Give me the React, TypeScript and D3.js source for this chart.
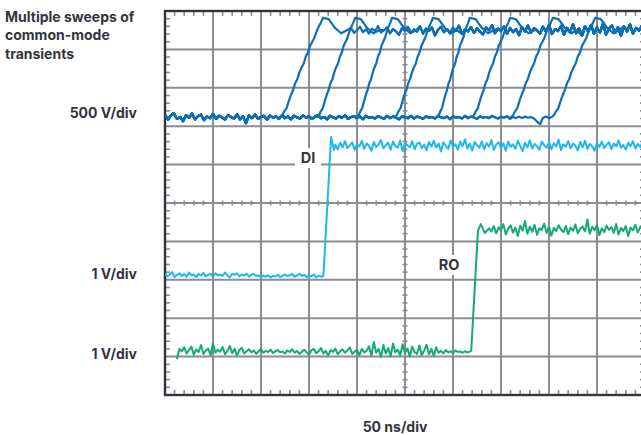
// App.tsx
import React, { useEffect, useRef } from 'react';
import * as d3 from 'd3';

// scope screen: 10 x 10 divisions, time in div, volts in div (0 = centre line)
const cmLowLevel = 2.24;
const cmPeak = 4.82;
const cmStarts = [2.40, 3.17, 4.0, 4.79, 5.67, 6.40, 7.21, 8.06];
const cmEnds = [3.29, 3.96, 4.73, 5.58, 6.35, 7.19, 8.08, 8.96];
// rising edge profile: [fraction of edge time, fraction of swing]
const cmEdgeShape = [
  [0, 0], [0.05, 0.02], [0.1, 0.06], [0.15, 0.09], [0.2, 0.16], [0.25, 0.22], [0.3, 0.27],
  [0.35, 0.34], [0.4, 0.38], [0.45, 0.45], [0.5, 0.5], [0.55, 0.54], [0.6, 0.61], [0.65, 0.65],
  [0.7, 0.72], [0.75, 0.76], [0.8, 0.8], [0.85, 0.86], [0.9, 0.91], [0.95, 0.95], [1, 1],
];
// ringing after each edge: [div after edge end, level]
const cmRing = [[0.12, 4.79], [0.25, 4.56], [0.38, 4.42], [0.5, 4.5]];
const cmStep = 0.0625;
const cmLow = [
  2.31, 2.17, 2.28, 2.34, 2.19, 2.24, 2.13, 2.29, 2.22, 2.33,
  2.18, 2.26, 2.30, 2.16, 2.25, 2.21, 2.32, 2.19, 2.27, 2.23,
  2.17, 2.29, 2.24, 2.20, 2.31, 2.18, 2.26, 2.08, 2.28, 2.21,
  2.30, 2.19, 2.25, 2.27, 2.17, 2.28, 2.22, 2.26, 2.19, 2.29,
  2.21, 2.25, 2.18, 2.27, 2.23, 2.20, 2.28, 2.22, 2.26, 2.19,
  2.25, 2.29, 2.21, 2.24, 2.18, 2.27, 2.23, 2.20, 2.26, 2.22,
  2.28, 2.19, 2.24, 2.26, 2.21, 2.25, 2.18, 2.27, 2.22, 2.24,
  2.20, 2.26, 2.23, 2.19, 2.27, 2.21, 2.25, 2.22, 2.18, 2.26,
  2.24, 2.21, 2.27, 2.20, 2.25, 2.23, 2.19, 2.26, 2.22, 2.24,
  2.20, 2.27, 2.23, 2.21, 2.25, 2.18, 2.26, 2.22, 2.24, 2.20,
  2.27, 2.21, 2.25, 2.23, 2.19, 2.26, 2.22, 2.24, 2.21, 2.27,
  2.23, 2.20, 2.25, 2.22, 2.26, 2.19, 2.24, 2.21, 2.25, 2.21,
  2.25, 2.22, 2.24, 2.20, 2.12, 2.05, 2.22, 2.25, 2.21, 2.24, 2.23,
];
const cmHighT0 = 3.25;
const cmHigh = [
  4.47, 4.55, 4.42, 4.51, 4.58, 4.44, 4.49, 4.40, 4.53, 4.46,
  4.56, 4.43, 4.50, 4.59, 4.45, 4.52, 4.41, 4.54, 4.48, 4.61,
  4.44, 4.50, 4.57, 4.42, 4.53, 4.47, 4.38, 4.55, 4.49, 4.58,
  4.43, 4.52, 4.46, 4.60, 4.41, 4.54, 4.48, 4.57, 4.36, 4.51,
  4.59, 4.45, 4.53, 4.42, 4.56, 4.49, 4.62, 4.40, 4.52, 4.47,
  4.58, 4.43, 4.55, 4.46, 4.39, 4.57, 4.50, 4.63, 4.42, 4.54,
  4.48, 4.60, 4.41, 4.56, 4.45, 4.53, 4.37, 4.58, 4.47, 4.62,
  4.44, 4.55, 4.50, 4.41, 4.59, 4.46, 4.64, 4.40, 4.53, 4.48,
  4.61, 4.38, 4.56, 4.45, 4.66, 4.42, 4.55, 4.35, 4.60, 4.47,
  4.63, 4.41, 4.57, 4.44, 4.67, 4.39, 4.54, 4.62, 4.43, 4.58,
  4.36, 4.60, 4.47, 4.65, 4.41, 4.56, 4.49, 4.62, 4.45,
];

const sigStep = 0.05;
const diLow = [
  -1.84, -1.91, -1.86, -1.80, -1.93, -1.87, -1.83, -1.90, -1.85, -1.92,
  -1.81, -1.88, -1.86, -1.93, -1.84, -1.89, -1.82, -1.91, -1.87, -1.85,
  -1.92, -1.83, -1.88, -1.86, -1.90, -1.81, -1.89, -1.94, -1.85, -1.87,
  -1.83, -1.91, -1.86, -1.89, -1.84, -1.92, -1.87, -1.85, -1.90, -1.88,
  -1.93, -1.89, -1.92, -1.88, -1.94, -1.90, -1.91, -1.87, -1.93, -1.89,
  -1.86, -1.91, -1.88, -1.85, -1.92, -1.89, -1.84, -1.90, -1.87, -1.93,
  -1.88, -1.91, -1.86, -1.94, -1.89, -1.92, -1.90,
];
const diEdge = [[3.30, -1.9], [3.46, 1.72], [3.52, 1.38]];
const diHighT0 = 3.55;
const diHigh = [
  1.52, 1.40, 1.57, 1.45, 1.61, 1.43, 1.50, 1.58, 1.38, 1.54,
  1.47, 1.62, 1.41, 1.55, 1.49, 1.36, 1.59, 1.46, 1.53, 1.64,
  1.42, 1.51, 1.57, 1.39, 1.60, 1.48, 1.44, 1.63, 1.35, 1.56,
  1.50, 1.45, 1.61, 1.40, 1.54, 1.58, 1.43, 1.52, 1.37, 1.59,
  1.47, 1.62, 1.44, 1.55, 1.34, 1.58, 1.49, 1.41, 1.63, 1.46,
  1.53, 1.39, 1.60, 1.48, 1.66, 1.42, 1.55, 1.37, 1.59, 1.51,
  1.44, 1.61, 1.40, 1.56, 1.47, 1.64, 1.38, 1.52, 1.58, 1.43,
  1.55, 1.36, 1.60, 1.46, 1.53, 1.41, 1.62, 1.49, 1.35, 1.57,
  1.45, 1.63, 1.42, 1.54, 1.48, 1.39, 1.60, 1.50, 1.44, 1.58,
  1.40, 1.56, 1.47, 1.65, 1.38, 1.53, 1.46, 1.61, 1.42, 1.55,
  1.49, 1.37, 1.59, 1.45, 1.62, 1.41, 1.54, 1.48, 1.36, 1.57,
  1.46, 1.60, 1.43, 1.52, 1.58, 1.40, 1.55, 1.47, 1.63, 1.44,
  1.51, 1.39, 1.57, 1.48, 1.61, 1.42, 1.54, 1.46, 1.59, 1.50,
];

const roLowT0 = 0.25;
const roLow = [
  -4.06, -3.80, -3.86, -3.76, -3.92, -3.83, -3.74, -3.95, -3.81, -3.88,
  -3.70, -3.93, -3.84, -3.79, -3.96, -3.66, -3.90, -3.82, -3.87, -3.75,
  -3.94, -3.85, -3.72, -3.91, -3.80, -3.97, -3.83, -3.77, -3.92, -3.86,
  -3.81, -3.89, -3.84, -3.93, -3.86, -3.80, -3.90, -3.85, -3.88, -3.82,
  -3.91, -3.86, -3.83, -3.89, -3.87, -3.92, -3.84, -3.88, -3.81, -3.90,
  -3.85, -3.93, -3.87, -3.82, -3.89, -3.95, -3.84, -3.80, -3.91, -3.86,
  -3.78, -3.92, -3.85, -3.97, -3.83, -3.88, -3.79, -3.94, -3.86, -3.81,
  -3.90, -3.84, -3.76, -3.93, -3.87, -3.82, -3.96, -3.80, -3.89, -3.85,
  -3.73, -3.98, -3.62, -3.90, -3.80, -4.01, -3.70, -3.92, -3.78, -3.99,
  -3.66, -3.89, -3.82, -3.97, -3.68, -3.91, -3.79, -4.00, -3.74, -3.88,
  -3.93, -3.71, -3.96, -3.84, -3.69, -3.94, -3.80, -3.98, -3.76, -3.90,
  -3.85, -3.92, -3.83, -3.89, -3.86, -3.91, -3.84, -3.88, -3.87, -3.90,
  -3.86, -3.89, -3.87,
];
const roEdge = [[6.38, -3.84], [6.52, -0.72], [6.58, -0.55], [6.66, -0.78]];
const roHighT0 = 6.75;
const roHigh = [
  -0.66, -0.74, -0.60, -0.79, -0.63, -0.71, -0.55, -0.82, -0.68, -0.58,
  -0.77, -0.64, -0.86, -0.59, -0.72, -0.47, -0.80, -0.62, -0.75, -0.57,
  -0.83, -0.66, -0.70, -0.54, -0.78, -0.61, -0.85, -0.65, -0.73, -0.58,
  -0.69, -0.76, -0.60, -0.81, -0.64, -0.72, -0.56, -0.79, -0.67, -0.61,
  -0.74, -0.43, -0.80, -0.62, -0.71, -0.58, -0.84, -0.66, -0.76, -0.59,
  -0.70, -0.63, -0.78, -0.55, -0.82, -0.65, -0.73, -0.60, -0.86, -0.64,
  -0.71, -0.57, -0.77, -0.62, -0.68, -0.66,
];

const sideLabels = [
  { text: 'Multiple sweeps of', y: 21.5 },
  { text: 'common-mode', y: 40 },
  { text: 'transients', y: 58.5 },
];
const scaleLabels = [
  { text: '500 V/div', v: 2.35 },
  { text: '1 V/div', v: -1.85 },
  { text: '1 V/div', v: -3.92 },
];

const sampled = (t0: number, step: number, vals: number[]) =>
  vals.map((v, i) => [t0 + i * step, v] as [number, number]);

const App = () => {
  const svgRef = useRef<SVGSVGElement>(null);

  useEffect(() => {
    const svg = d3.select(svgRef.current);
    svg.selectAll('*').remove();

    const x = d3.scaleLinear().domain([0, 10]).range([165, 645]);
    const y = d3.scaleLinear().domain([-5, 5]).range([395, 11]);
    const ink = '#34343e';
    const gridCol = '#8c8c93';
    const font = 'Inter, "Noto Sans", sans-serif';

    svg.append('defs').append('clipPath').attr('id', 'screen')
      .append('rect').attr('x', 165).attr('y', 11).attr('width', 476).attr('height', 384);

    const g = svg.append('g');

    // grid
    const divs = d3.range(1, 10);
    g.selectAll('.vgrid').data(divs).enter().append('line')
      .attr('x1', d => x(d)).attr('x2', d => x(d)).attr('y1', y(5)).attr('y2', y(-5))
      .attr('stroke', gridCol).attr('stroke-width', 2);
    g.selectAll('.hgrid').data(divs).enter().append('line')
      .attr('x1', x(0)).attr('x2', x(10)).attr('y1', d => y(d - 5)).attr('y2', d => y(d - 5))
      .attr('stroke', gridCol).attr('stroke-width', 2);

    // minor ticks
    const minorX = d3.range(1, 50).filter(i => i % 5 !== 0).map(i => i / 5);
    const minorY = d3.range(1, 50).filter(i => i % 5 !== 0).map(i => i / 5 - 5);
    const tick = (x1: number, y1: number, x2: number, y2: number) =>
      g.append('line').attr('x1', x1).attr('y1', y1).attr('x2', x2).attr('y2', y2)
        .attr('stroke', gridCol).attr('stroke-width', 1.6);
    minorX.forEach(t => {
      tick(x(t), y(5), x(t), y(5) + 5);
      tick(x(t), y(-5), x(t), y(-5) - 5);
      tick(x(t), y(0) - 2.5, x(t), y(0) + 2.5);
    });
    minorY.forEach(v => {
      tick(x(0), y(v), x(0) + 5, y(v));
      tick(x(10), y(v), x(10) - 5, y(v));
      tick(x(5) - 2.5, y(v), x(5) + 2.5, y(v));
    });

    // frame
    g.append('rect').attr('x', x(0)).attr('y', y(5)).attr('width', x(10) - x(0)).attr('height', y(-5) - y(5))
      .attr('fill', 'none').attr('stroke', ink).attr('stroke-width', 2.4);

    // trace labels
    const traceLabel = (text: string, cx: number, cy: number, w: number) => {
      g.append('rect').attr('x', cx - w / 2).attr('y', cy - 10).attr('width', w).attr('height', 20).attr('fill', '#fff');
      g.append('text').attr('x', cx).attr('y', cy + 5).attr('text-anchor', 'middle')
        .attr('font-family', font).attr('font-weight', 700).attr('font-size', 14.5).attr('fill', ink).text(text);
    };
    traceLabel('DI', 308, 158, 26);
    traceLabel('RO', 449, 265, 28);

    const line = d3.line<[number, number]>().x(d => x(d[0])).y(d => y(d[1]));
    const traces = svg.append('g').attr('clip-path', 'url(#screen)');

    // common-mode sweeps
    const lowPts = sampled(0, cmStep, cmLow);
    const highPts = sampled(cmHighT0, cmStep, cmHigh);
    cmStarts.forEach((s, i) => {
      const e = cmEnds[i];
      const pts: [number, number][] = [
        ...lowPts.filter(p => p[0] < s),
        ...cmEdgeShape.map(([f, a]) => [s + f * (e - s), cmLowLevel + a * (cmPeak - cmLowLevel)] as [number, number]),
        ...cmRing.map(([dt, v]) => [e + dt, v] as [number, number]),
        ...highPts.filter(p => p[0] > e + 0.55),
      ];
      traces.append('path').attr('d', line(pts)).attr('fill', 'none')
        .attr('stroke', '#0b6fb7').attr('stroke-width', 2.2).attr('stroke-linejoin', 'round');
    });

    // DI
    const diPts: [number, number][] = [
      ...sampled(0, sigStep, diLow),
      ...diEdge as [number, number][],
      ...sampled(diHighT0, sigStep, diHigh),
    ];
    traces.append('path').attr('d', line(diPts)).attr('fill', 'none')
      .attr('stroke', '#1db9ec').attr('stroke-width', 2).attr('stroke-linejoin', 'round');

    // RO
    const roPts: [number, number][] = [
      ...sampled(roLowT0, sigStep, roLow),
      ...roEdge as [number, number][],
      ...sampled(roHighT0, sigStep, roHigh),
    ];
    traces.append('path').attr('d', line(roPts)).attr('fill', 'none')
      .attr('stroke', '#13a97b').attr('stroke-width', 2).attr('stroke-linejoin', 'round');

    // side text
    svg.selectAll('.side').data(sideLabels).enter().append('text')
      .attr('x', 5).attr('y', d => d.y)
      .attr('font-family', font).attr('font-weight', 700).attr('font-size', 14).attr('fill', ink)
      .text(d => d.text);
    svg.selectAll('.scale').data(scaleLabels).enter().append('text')
      .attr('x', 137).attr('y', d => y(d.v) + 5).attr('text-anchor', 'end')
      .attr('font-family', font).attr('font-weight', 700).attr('font-size', 14).attr('fill', ink)
      .text(d => d.text);
    svg.append('text').attr('x', 395).attr('y', 432).attr('text-anchor', 'middle')
      .attr('font-family', font).attr('font-weight', 700).attr('font-size', 14).attr('fill', ink)
      .text('50 ns/div');
  }, []);

  return (
    <svg ref={svgRef} width={641} height={435}
      style={{ position: 'absolute', left: 0, top: 0, background: '#fff' }} />
  );
};

export default App;
